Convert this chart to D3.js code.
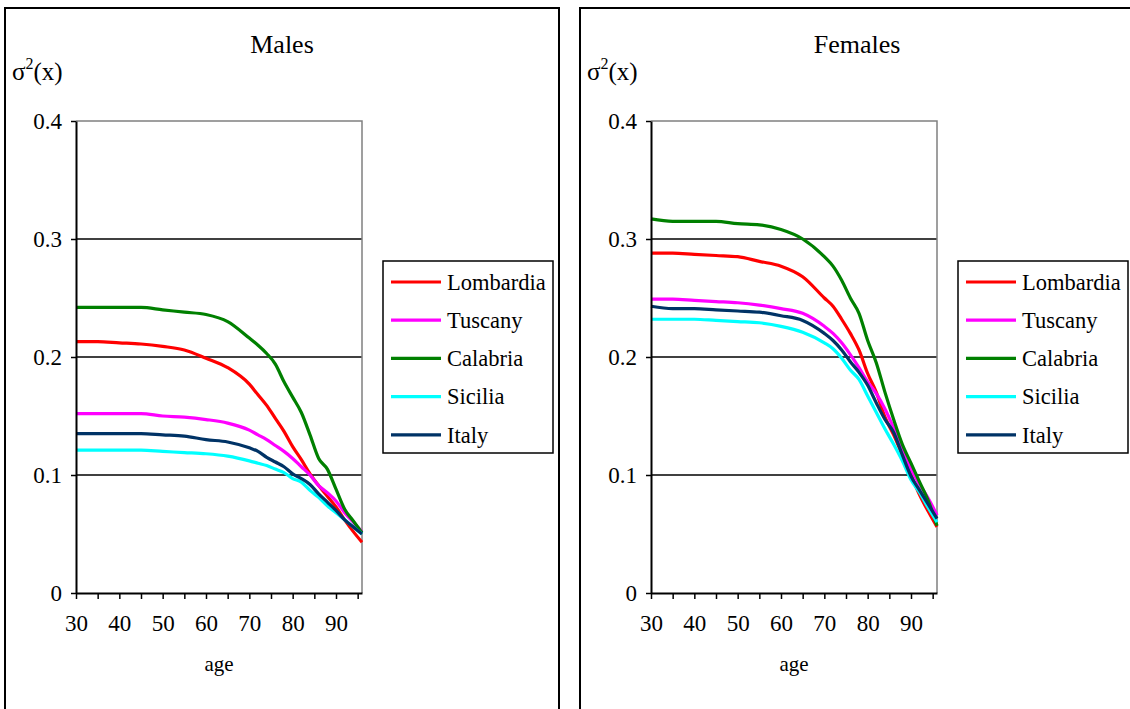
<!DOCTYPE html>
<html>
<head>
<meta charset="utf-8">
<script src="https://cdn.jsdelivr.net/npm/d3@7"></script>
<style>
  body { margin: 0; background: #fff; }
  text { font-family: "Liberation Serif", "Times New Roman", serif; fill: #000; }
</style>
</head>
<body>
<div id="chart"></div>
<script>
var wt = 1130;
var ht = 709;

var ages = [30, 35, 40, 45, 50, 55, 60, 65, 70, 72, 74, 76, 78, 80, 82, 84, 86, 88, 90, 92, 94, 96];

var regions = ["Lombardia", "Tuscany", "Calabria", "Sicilia", "Italy"];
var colors = ["#ff0000", "#ff00ff", "#008000", "#00ffff", "#003366"];

// males
var mLombardia = [0.213, 0.213, 0.212, 0.211, 0.209, 0.206, 0.199, 0.191, 0.177, 0.168, 0.159, 0.148, 0.137, 0.124, 0.113, 0.101, 0.091, 0.082, 0.073, 0.062, 0.052, 0.043];
var mTuscany   = [0.152, 0.152, 0.152, 0.152, 0.150, 0.149, 0.147, 0.144, 0.138, 0.134, 0.130, 0.125, 0.120, 0.114, 0.107, 0.100, 0.091, 0.085, 0.078, 0.068, 0.060, 0.052];
var mCalabria  = [0.242, 0.242, 0.242, 0.242, 0.240, 0.238, 0.236, 0.230, 0.216, 0.210, 0.203, 0.194, 0.179, 0.166, 0.153, 0.134, 0.114, 0.105, 0.088, 0.071, 0.061, 0.051];
var mSicilia   = [0.121, 0.121, 0.121, 0.121, 0.120, 0.119, 0.118, 0.116, 0.112, 0.110, 0.108, 0.105, 0.102, 0.097, 0.094, 0.087, 0.081, 0.074, 0.068, 0.062, 0.056, 0.050];
var mItaly     = [0.135, 0.135, 0.135, 0.135, 0.134, 0.133, 0.130, 0.128, 0.123, 0.120, 0.115, 0.111, 0.107, 0.101, 0.097, 0.092, 0.084, 0.077, 0.070, 0.062, 0.056, 0.050];

// females
var fLombardia = [0.288, 0.288, 0.287, 0.286, 0.285, 0.281, 0.277, 0.268, 0.250, 0.243, 0.232, 0.220, 0.206, 0.186, 0.170, 0.149, 0.134, 0.117, 0.100, 0.083, 0.069, 0.056];
var fTuscany   = [0.249, 0.249, 0.248, 0.247, 0.246, 0.244, 0.241, 0.237, 0.226, 0.220, 0.212, 0.202, 0.191, 0.179, 0.169, 0.156, 0.140, 0.123, 0.105, 0.092, 0.080, 0.066];
var fCalabria  = [0.317, 0.315, 0.315, 0.315, 0.313, 0.312, 0.308, 0.300, 0.285, 0.277, 0.265, 0.250, 0.237, 0.214, 0.195, 0.170, 0.147, 0.126, 0.110, 0.094, 0.078, 0.057];
var fSicilia   = [0.232, 0.232, 0.232, 0.231, 0.230, 0.229, 0.226, 0.221, 0.212, 0.207, 0.199, 0.189, 0.181, 0.167, 0.153, 0.139, 0.126, 0.112, 0.096, 0.085, 0.072, 0.060];
var fItaly     = [0.243, 0.241, 0.241, 0.240, 0.239, 0.238, 0.235, 0.231, 0.220, 0.214, 0.206, 0.196, 0.187, 0.176, 0.161, 0.147, 0.136, 0.117, 0.099, 0.087, 0.075, 0.063];

var yTicks = [0, 0.1, 0.2, 0.3, 0.4];
var xTicks = d3.range(30, 96, 5);

var svg = d3.select("#chart").append("svg")
    .attr("width", wt)
    .attr("height", ht);

var drawPanel = function (dx, title, series) {
    var g = svg.append("g")
        .attr("transform", "translate(" + dx + ",0)");

    // panel frame
    g.append("rect")
        .attr("x", 5).attr("y", 8)
        .attr("width", 554).attr("height", 760)
        .attr("fill", "#fff")
        .attr("stroke", "#000")
        .attr("stroke-width", 2);

    var x = d3.scaleLinear().domain([30, 96]).range([76, 362]);
    var y = d3.scaleLinear().domain([0, 0.4]).range([593, 121]);

    // gridlines
    g.selectAll(".grid")
        .data([0.1, 0.2, 0.3])
        .enter().append("line")
        .attr("x1", 76).attr("x2", 362)
        .attr("y1", function (d) { return y(d); })
        .attr("y2", function (d) { return y(d); })
        .attr("stroke", "#000")
        .attr("stroke-width", 1.5);

    // top and right border of plot area
    g.append("path")
        .attr("d", "M76," + y(0.4) + "H362V593")
        .attr("fill", "none")
        .attr("stroke", "#808080")
        .attr("stroke-width", 1.5);

    var line = d3.line()
        .x(function (d) { return x(d.age); })
        .y(function (d) { return y(d.value); })
        .curve(d3.curveMonotoneX);

    series.forEach(function (s, i) {
        var pts = ages.map(function (a, j) { return { age: a, value: s[j] }; });
        g.append("path")
            .datum(pts)
            .attr("class", "line")
            .attr("fill", "none")
            .attr("stroke", colors[i])
            .attr("stroke-width", 3.2)
            .attr("stroke-linejoin", "round")
            .attr("d", line);
    });

    var yAxis = g.append("g")
        .attr("class", "axis axis--y")
        .attr("transform", "translate(76,0)")
        .call(d3.axisLeft(y).tickValues(yTicks).tickSize(5).tickSizeOuter(0).tickPadding(9)
            .tickFormat(function (d) { return d === 0 ? "0" : d3.format(".1f")(d); }));

    var xAxis = g.append("g")
        .attr("class", "axis axis--x")
        .attr("transform", "translate(0,593)")
        .call(d3.axisBottom(x).tickValues(xTicks).tickSize(6).tickSizeOuter(0).tickPadding(16)
            .tickFormat(function (d) { return d % 10 === 0 ? d : ""; }));

    [yAxis, xAxis].forEach(function (ax) {
        ax.attr("font-family", null);
        ax.select(".domain").attr("stroke", "#000").attr("stroke-width", 2);
        ax.selectAll(".tick line").attr("stroke", "#000").attr("stroke-width", 1.5);
        ax.selectAll(".tick text")
            .style("font-family", "'Liberation Serif', 'Times New Roman', serif")
            .style("font-size", "23px")
            .attr("fill", "#000");
    });

    g.append("text")
        .attr("x", 282).attr("y", 53)
        .attr("text-anchor", "middle")
        .style("font-size", "26px")
        .text(title);

    var ylab = g.append("text")
        .attr("x", 12).attr("y", 80)
        .style("font-size", "25px");
    ylab.append("tspan").text("\u03c3");
    ylab.append("tspan").attr("dy", -11).style("font-size", "16px").text("2");
    ylab.append("tspan").attr("dy", 11).text("(x)");

    g.append("text")
        .attr("x", 219).attr("y", 671)
        .attr("text-anchor", "middle")
        .style("font-size", "21px")
        .text("age");

    // legend
    var lg = g.append("g").attr("class", "legend");
    lg.append("rect")
        .attr("x", 383).attr("y", 261)
        .attr("width", 170).attr("height", 192)
        .attr("fill", "#fff")
        .attr("stroke", "#000")
        .attr("stroke-width", 1.5);

    var rows = lg.selectAll(".row")
        .data(regions)
        .enter().append("g")
        .attr("transform", function (d, i) { return "translate(0," + (282 + i * 38.2) + ")"; });
    rows.append("line")
        .attr("x1", 391).attr("x2", 441)
        .attr("stroke", function (d, i) { return colors[i]; })
        .attr("stroke-width", 3.2);
    rows.append("text")
        .attr("x", 447).attr("dy", "0.35em")
        .style("font-size", "22.5px")
        .text(function (d) { return d; });
};

drawPanel(0, "Males", [mLombardia, mTuscany, mCalabria, mSicilia, mItaly]);
drawPanel(575, "Females", [fLombardia, fTuscany, fCalabria, fSicilia, fItaly]);
</script>
</body>
</html>
